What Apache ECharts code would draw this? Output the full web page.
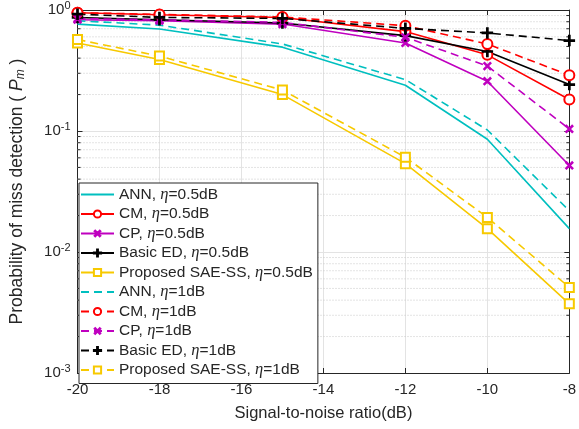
<!DOCTYPE html>
<html>
<head>
<meta charset="utf-8">
<title>Pm vs SNR</title>
<script src="https://cdn.jsdelivr.net/npm/echarts@6/dist/echarts.min.js"></script>
<style>html,body{margin:0;background:#fff}#main{width:579px;height:429px}</style>
</head>
<body>
<div id="main"></div>
<script>
// SNR points (dB)
var snr = [-20, -18, -15, -12, -10, -8];

// eta = 0.5dB
var ann05 = [0.765, 0.696, 0.493, 0.239, 0.0855, 0.0156];
var cm05  = [0.95, 0.913, 0.868, 0.663, 0.426, 0.182];
var cp05  = [0.831, 0.815, 0.765, 0.534, 0.258, 0.0519];
var ed05  = [0.868, 0.831, 0.78, 0.614, 0.454, 0.242];
var sae05 = [0.534, 0.39, 0.2, 0.0537, 0.0156, 0.00373];

// eta = 1dB
var ann1 = [0.815, 0.75, 0.524, 0.266, 0.102, 0.0219];
var cm1  = [0.95, 0.92, 0.875, 0.742, 0.524, 0.289];
var cp1  = [0.85, 0.83, 0.79, 0.595, 0.344, 0.104];
var ed1  = [0.924, 0.868, 0.852, 0.705, 0.646, 0.559];
var sae1 = [0.57, 0.416, 0.218, 0.0607, 0.0193, 0.0051];

var minorTicks = [0.002,0.003,0.004,0.005,0.006,0.007,0.008,0.009,
                  0.02,0.03,0.04,0.05,0.06,0.07,0.08,0.09,
                  0.2,0.3,0.4,0.5,0.6,0.7,0.8,0.9];

var plusPath = 'path://M4.4,0H5.6V4.4H10V5.6H5.6V10H4.4V5.6H0V4.4H4.4Z';
var txt = '#262626';
var font = 'Liberation Sans';

function pairs(ys) {
    return snr.map(function (x, i) { return [x, ys[i]]; });
}

function mk(name, ys, color, dashed, symbol, size, rotate) {
    return {
        name: name,
        type: 'line',
        data: pairs(ys),
        symbol: symbol,
        symbolSize: size,
        symbolRotate: rotate || 0,
        showAllSymbol: true,
        lineStyle: { color: color, width: 1.6, type: dashed ? [8, 5] : 'solid' },
        itemStyle: { color: color, borderColor: color, borderWidth: 1.5 },
        emphasis: { disabled: true },
        z: 3
    };
}

var seriesList = [
    mk('ANN, η=0.5dB', ann05, '#00bfbf', false, 'none', 0),
    mk('CM, η=0.5dB', cm05, '#ff0000', false, 'emptyCircle', 10),
    mk('CP, η=0.5dB', cp05, '#bf00bf', false, plusPath, 9, 45),
    mk('Basic ED, η=0.5dB', ed05, '#000000', false, plusPath, 10),
    mk('Proposed SAE-SS, η=0.5dB', sae05, '#f7c900', false, 'emptyRect', 9),
    mk('ANN, η=1dB', ann1, '#00bfbf', true, 'none', 0),
    mk('CM, η=1dB', cm1, '#ff0000', true, 'emptyCircle', 10),
    mk('CP, η=1dB', cp1, '#bf00bf', true, plusPath, 9, 45),
    mk('Basic ED, η=1dB', ed1, '#000000', true, plusPath, 10),
    mk('Proposed SAE-SS, η=1dB', sae1, '#f7c900', true, 'emptyRect', 9)
];

// minor log grid lines (dotted) with small ticks on both sides
seriesList.push({
    type: 'custom',
    silent: true,
    z: 1,
    data: minorTicks.map(function (v) { return [-20, v]; }),
    encode: { x: 0, y: 1 },
    renderItem: function (params, api) {
        var y = api.coord([api.value(0), api.value(1)])[1];
        var cs = params.coordSys;
        var x0 = cs.x, x1 = cs.x + cs.width;
        return {
            type: 'group',
            children: [
                { type: 'line', shape: { x1: x0, y1: y, x2: x1, y2: y },
                  style: { stroke: '#c8c8c8', lineWidth: 1, lineDash: [1, 2] } },
                { type: 'line', shape: { x1: x0, y1: y, x2: x0 + 3, y2: y },
                  style: { stroke: txt, lineWidth: 1 } },
                { type: 'line', shape: { x1: x1 - 3, y1: y, x2: x1, y2: y },
                  style: { stroke: txt, lineWidth: 1 } }
            ]
        };
    }
});

var legendData = seriesList.slice(0, 10).map(function (s) {
    if (s.symbol === 'none') {
        return { name: s.name, itemStyle: { opacity: 0 } };
    }
    return { name: s.name };
});

var chart = echarts.init(document.getElementById('main'));

var logAxisBase = {
    type: 'log',
    logBase: 10,
    min: 0.001,
    max: 1,
    axisLine: { show: true, lineStyle: { color: txt, width: 1 } },
    axisTick: { show: true, inside: true, length: 5, lineStyle: { color: txt } }
};

var option = {
    backgroundColor: '#fff',
    animation: false,
    grid: { left: 76, right: 7, top: 8, bottom: 56 },
    legend: {
        orient: 'vertical',
        left: 79,
        top: 183,
        itemWidth: 33,
        itemHeight: 9,
        itemGap: 2.5,
        padding: [3, 5, 5, 1],
        backgroundColor: '#fff',
        borderColor: txt,
        borderWidth: 1,
        borderRadius: 0,
        data: legendData,
        formatter: function (name) {
            var p = name.split('η');
            return '{t|' + p[0] + '}{i|η}{t|' + p[1] + '}';
        },
        textStyle: {
            color: txt,
            rich: {
                t: { fontFamily: font, fontSize: 15.5, color: txt },
                i: { fontFamily: 'Liberation Serif', fontStyle: 'italic', fontSize: 16.5, color: txt }
            }
        }
    },
    xAxis: [{
        type: 'value',
        min: -20,
        max: -8,
        interval: 2,
        name: 'Signal-to-noise ratio(dB)',
        nameLocation: 'middle',
        nameGap: 32,
        nameTextStyle: { fontFamily: font, fontSize: 16.5, color: txt },
        axisLine: { show: true, onZero: false, lineStyle: { color: txt } },
        axisTick: { show: true, inside: true, length: 5, lineStyle: { color: txt } },
        axisLabel: { fontFamily: font, fontSize: 15, color: txt, margin: 9 },
        splitLine: { show: true, lineStyle: { color: '#e3e3e3', width: 1 } }
    }, {
        type: 'value',
        position: 'top',
        min: -20,
        max: -8,
        interval: 2,
        axisLine: { show: true, onZero: false, lineStyle: { color: txt } },
        axisTick: { show: true, inside: true, length: 5, lineStyle: { color: txt } },
        axisLabel: { show: false },
        splitLine: { show: false }
    }],
    yAxis: [Object.assign({}, logAxisBase, {
        position: 'left',
        name: 'Probability of miss detection ( {i|P}{s|m} )',
        nameLocation: 'middle',
        nameGap: 51,
        nameTextStyle: {
            fontFamily: font, fontSize: 17.5, color: txt,
            rich: {
                i: { fontFamily: font, fontStyle: 'italic', fontSize: 17.5, color: txt },
                s: { fontFamily: font, fontStyle: 'italic', fontSize: 12, color: txt, padding: [7, 0, 0, 0] }
            }
        },
        axisLabel: {
            color: txt,
            margin: 7,
            formatter: function (v) {
                var e = Math.round(Math.log(v) / Math.LN10);
                return '{b|10}{s|' + e + '}';
            },
            rich: {
                b: { fontFamily: font, fontSize: 15, color: txt },
                s: { fontFamily: font, fontSize: 11, color: txt, padding: [0, 0, 9, 0] }
            }
        },
        splitLine: { show: true, lineStyle: { color: '#e3e3e3', width: 1 } }
    }), Object.assign({}, logAxisBase, {
        position: 'right',
        axisLabel: { show: false },
        splitLine: { show: false }
    })],
    series: seriesList
};

chart.setOption(option);
</script>
</body>
</html>
